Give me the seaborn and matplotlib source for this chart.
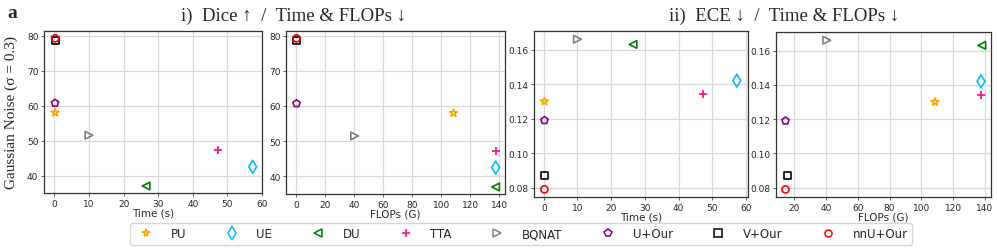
import numpy as np
import pandas as pd
import matplotlib
matplotlib.use("Agg")
import matplotlib.pyplot as plt
import seaborn as sns
from matplotlib.lines import Line2D

# Metoder och stilar
methods = ["PU", "UE", "DU", "TTA", "BQNAT", "U+Our", "V+Our", "nnU+Our"]
colors = ["orange", "deepskyblue", "green", "deeppink", "gray", "purple", "black", "red"]
markers = ["*", "d", "<", "+", ">", "p", "s", "o"]
sizes = [34, 44, 30, 38, 30, 30, 26, 26]

# Värden
time_s = [0.2, 57.3, 26.5, 47.3, 10.0, 0.2, 0.2, 0.2]
flops_dice = [108.5, 137.5, 137.5, 137.5, 40.5, 0.5, 0.5, 0.5]
flops_ece = [108.5, 137.5, 138.0, 137.5, 40.5, 14.5, 15.5, 14.5]
dice = [58.0, 42.5, 37.0, 47.3, 51.5, 60.7, 78.5, 79.2]
ece = [0.130, 0.142, 0.163, 0.134, 0.166, 0.119, 0.087, 0.079]

sns.set_theme(style="ticks")
plt.rcParams["font.family"] = ["DejaVu Sans"]

fig = plt.figure(figsize=(9.97, 2.51), dpi=100)
pos = [
    [0.0441, 0.2271, 0.2187, 0.6454],
    [0.2869, 0.2231, 0.2197, 0.6494],
    [0.5356, 0.2112, 0.2146, 0.6614],
    [0.7783, 0.2112, 0.2157, 0.6574],
]
panels = [
    (time_s, dice, "Time (s)", (-3, 60), (35, 81.3), [0, 10, 20, 30, 40, 50, 60], [40, 50, 60, 70, 80]),
    (flops_dice, dice, "FLOPs (G)", (-6.7, 144), (35, 81.3), [0, 20, 40, 60, 80, 100, 120, 140], [40, 50, 60, 70, 80]),
    (time_s, ece, "Time (s)", (-2.9, 60.6), (0.0746, 0.1708), [0, 10, 20, 30, 40, 50, 60], [0.08, 0.10, 0.12, 0.14, 0.16]),
    (flops_ece, ece, "FLOPs (G)", (8.5, 143.8), (0.0746, 0.1708), [20, 40, 60, 80, 100, 120, 140], [0.08, 0.10, 0.12, 0.14, 0.16]),
]

for p, (xs, ys, xlab, xl, yl, xt, yt) in zip(pos, panels):
    ax = fig.add_axes(p)
    df = pd.DataFrame({"x": xs, "y": ys, "Method": methods})
    for i, m in enumerate(methods):
        sub = df[df["Method"] == m]
        if markers[i] == "+":
            sns.scatterplot(data=sub, x="x", y="y", ax=ax, marker="+", s=sizes[i],
                            color=colors[i], linewidth=1.3, zorder=3, legend=False)
        else:
            sns.scatterplot(data=sub, x="x", y="y", ax=ax, marker=markers[i], s=sizes[i],
                            facecolor="none", edgecolor=colors[i], linewidth=1.2,
                            zorder=3, legend=False)
    ax.set_xlim(*xl)
    ax.set_ylim(*yl)
    ax.set_xticks(xt)
    ax.set_yticks(yt)
    if yt[0] < 1:
        ax.set_yticklabels([f"{v:.2f}" for v in yt])
    ax.set_xlabel(xlab, fontsize=7.5, labelpad=0)
    ax.set_ylabel("")
    ax.tick_params(labelsize=6.5, length=2.5, width=0.6, pad=1.5, color="#444444")
    ax.grid(True, color="#d9d9d9", linewidth=0.9, zorder=0)
    for s in ax.spines.values():
        s.set_color("#333333")
        s.set_linewidth(0.9)

serif = ["Liberation Serif", "DejaVu Serif"]
fig.text(0.007, 0.945, "a", fontsize=14, fontweight="bold", family=serif, va="center")
fig.text(0.294, 0.935, "i)  Dice \u2191  /  Time & FLOPs \u2193", fontsize=13.5,
         family=serif, ha="center", va="center")
fig.text(0.786, 0.935, "ii)  ECE \u2193  /  Time & FLOPs \u2193", fontsize=13.5,
         family=serif, ha="center", va="center")
fig.text(0.011, 0.55, "Gaussian Noise (\u03c3 = 0.3)", fontsize=11, family=serif,
         rotation=90, ha="center", va="center")

handles = []
for m, c, mk, sz in zip(methods, colors, markers, sizes):
    if mk == "+":
        h = Line2D([], [], linestyle="none", marker=mk, color=c, markersize=np.sqrt(sz), markeredgewidth=1.2)
    else:
        h = Line2D([], [], linestyle="none", marker=mk, markerfacecolor="none",
                   markeredgecolor=c, markersize=np.sqrt(sz), markeredgewidth=1.1)
    handles.append(h)
fig.legend(handles, methods, loc="center", bbox_to_anchor=(0.5226, 0.064), ncol=8,
           fontsize=8.5, frameon=True, handlelength=2, handletextpad=1.1,
           columnspacing=2.85, borderpad=0.35, edgecolor="#cccccc", fancybox=True)

plt.savefig("out.png", dpi=100)
